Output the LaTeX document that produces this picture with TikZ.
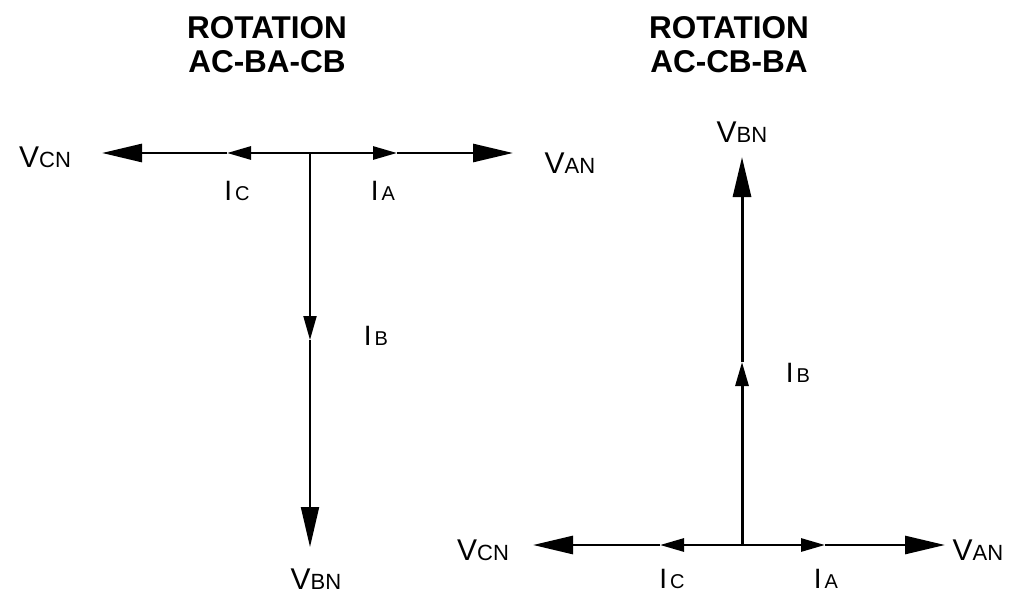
\documentclass[tikz,border=0pt]{standalone}
\usepackage{fontspec}
\setmainfont{Liberation Sans}
\usetikzlibrary{arrows.meta}

\newcommand{\vlab}[2]{{\fontsize{30}{30}\selectfont #1}{\fontsize{22}{22}\selectfont #2}}
\newcommand{\ilab}[2]{{\fontsize{28}{28}\selectfont #1}\kern3pt{\fontsize{20}{20}\selectfont #2}}

\begin{document}
\begin{tikzpicture}[
  x=1pt, y=-1pt,
  title/.style={font=\bfseries\fontsize{31.5}{34}\selectfont, inner sep=0pt, anchor=base},
  lbl/.style={inner sep=0pt, anchor=base},
  wire/.style={line width=2.8pt},
  bighead/.style={wire, -{Triangle[length=40pt,width=18pt]}},
  smallhead/.style={wire, -{Triangle[length=24pt,width=13pt]}},
]
\useasboundingbox (0,0) rectangle (1019,594);
% titles
\node[title] (rot1) at (267,39) {ROTATION};
\node[title] (seq1) at (267,73) {AC-BA-CB};
\node[title] (rot2) at (729,39) {ROTATION};
\node[title] (seq2) at (729,73) {AC-CB-BA};
% left diagram
\coordinate (O1) at (310,153);
\coordinate (vcn1) at (102,153);
\coordinate (ic1) at (227,153);
\coordinate (ia1) at (397,153);
\coordinate (van1) at (513,153);
\coordinate (ib1) at (310,340);
\coordinate (vbn1) at (310,547);
\draw[smallhead] (O1) -- (ic1);
\draw[bighead] (ic1) -- (vcn1);
\draw[smallhead] (O1) -- (ia1);
\draw[bighead] (ia1) -- (van1);
\draw[smallhead, line width=2pt] (O1) -- (ib1);
\draw[bighead, line width=2pt] (ib1) -- (vbn1);
\node[lbl] (Lvcn1) at (45,167) {\vlab{V}{CN}};
\node[lbl] (Lvan1) at (570,173) {\vlab{V}{AN}};
\node[lbl] (Lvbn1) at (316,589) {\vlab{V}{BN}};
\node[lbl] (Lic1) at (237,200) {\ilab{I}{C}};
\node[lbl] (Lia1) at (383,200) {\ilab{I}{A}};
\node[lbl] (Lib1) at (376,345) {\ilab{I}{B}};
% right diagram
\coordinate (O2) at (742,545);
\coordinate (vcn2) at (533,545);
\coordinate (ic2) at (660,545);
\coordinate (ia2) at (825,545);
\coordinate (van2) at (945,545);
\coordinate (ib2) at (742,362);
\coordinate (vbn2) at (742,157);
\draw[smallhead] (O2) -- (ic2);
\draw[bighead] (ic2) -- (vcn2);
\draw[smallhead] (O2) -- (ia2);
\draw[bighead] (ia2) -- (van2);
\draw[smallhead, line width=3pt] (O2) -- (ib2);
\draw[bighead, line width=3pt] (ib2) -- (vbn2);
\node[lbl] (Lvcn2) at (483,560) {\vlab{V}{CN}};
\node[lbl] (Lvan2) at (978,560) {\vlab{V}{AN}};
\node[lbl] (Lvbn2) at (742,142) {\vlab{V}{BN}};
\node[lbl] (Lic2) at (672,588) {\ilab{I}{C}};
\node[lbl] (Lia2) at (826,588) {\ilab{I}{A}};
\node[lbl] (Lib2) at (798,382) {\ilab{I}{B}};
\end{tikzpicture}
\end{document}
